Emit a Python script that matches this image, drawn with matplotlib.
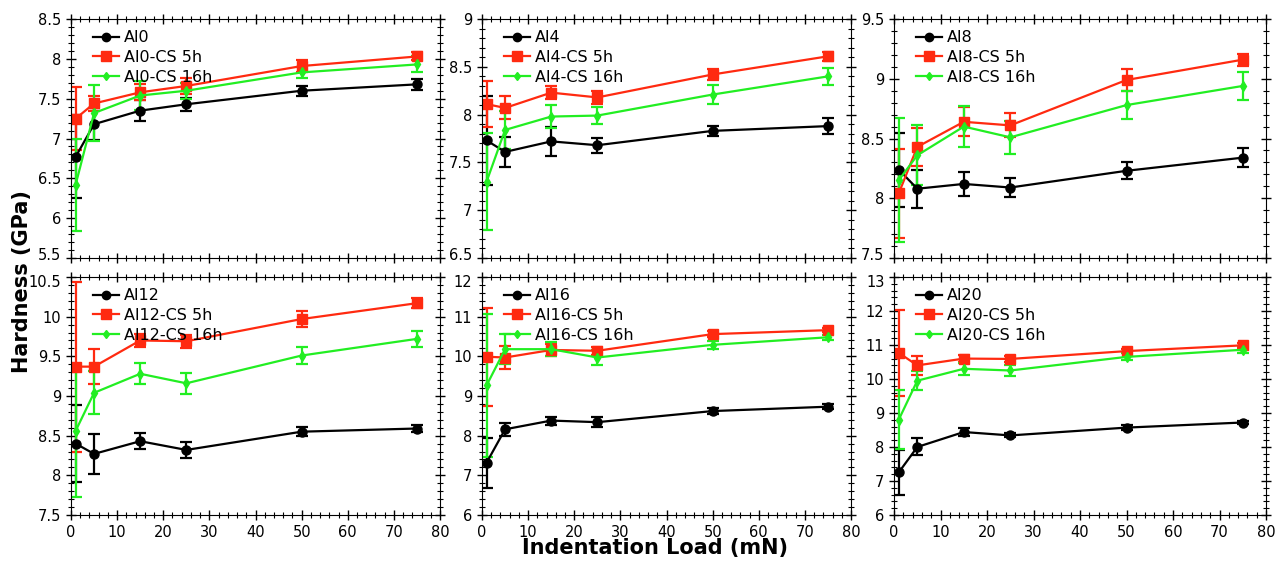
import matplotlib
matplotlib.use('Agg')
import matplotlib.pyplot as plt
from matplotlib.lines import Line2D
from matplotlib.transforms import ScaledTranslation
from matplotlib.ticker import AutoMinorLocator, MultipleLocator

plt.rcParams['font.family'] = 'DejaVu Sans'

load = [1, 5, 15, 25, 50, 75]

al0 = [6.77, 7.18, 7.35, 7.43, 7.60, 7.68]
al0_err = [0.52, 0.20, 0.13, 0.08, 0.065, 0.07]
al0_cs5 = [7.25, 7.44, 7.58, 7.66, 7.91, 8.03]
al0_cs5_err = [0.40, 0.09, 0.10, 0.10, 0.07, 0.05]
al0_cs16 = [6.42, 7.32, 7.54, 7.60, 7.83, 7.93]
al0_cs16_err = [0.58, 0.35, 0.18, 0.10, 0.07, 0.10]

al4 = [7.73, 7.61, 7.72, 7.68, 7.83, 7.88]
al4_err = [0.47, 0.16, 0.15, 0.08, 0.05, 0.08]
al4_cs5 = [8.11, 8.07, 8.23, 8.18, 8.42, 8.61]
al4_cs5_err = [0.24, 0.12, 0.07, 0.07, 0.06, 0.05]
al4_cs16 = [7.30, 7.84, 7.98, 7.99, 8.21, 8.40]
al4_cs16_err = [0.51, 0.20, 0.12, 0.09, 0.10, 0.09]

al8 = [8.24, 8.08, 8.12, 8.09, 8.23, 8.34]
al8_err = [0.31, 0.16, 0.10, 0.08, 0.07, 0.08]
al8_cs5 = [8.04, 8.43, 8.64, 8.61, 8.99, 9.16]
al8_cs5_err = [0.37, 0.16, 0.12, 0.10, 0.09, 0.05]
al8_cs16 = [8.15, 8.36, 8.60, 8.51, 8.78, 8.94]
al8_cs16_err = [0.52, 0.25, 0.17, 0.14, 0.12, 0.12]

al12 = [8.40, 8.27, 8.43, 8.32, 8.55, 8.59]
al12_err = [0.49, 0.25, 0.10, 0.10, 0.06, 0.05]
al12_cs5 = [9.37, 9.37, 9.70, 9.69, 9.97, 10.17]
al12_cs5_err = [1.07, 0.22, 0.08, 0.08, 0.10, 0.06]
al12_cs16 = [8.56, 9.04, 9.28, 9.16, 9.51, 9.72]
al12_cs16_err = [0.83, 0.27, 0.13, 0.13, 0.11, 0.10]

al16 = [7.32, 8.16, 8.38, 8.34, 8.62, 8.73]
al16_err = [0.63, 0.16, 0.10, 0.13, 0.08, 0.07]
al16_cs5 = [9.99, 9.97, 10.16, 10.14, 10.56, 10.66]
al16_cs5_err = [1.23, 0.28, 0.15, 0.10, 0.08, 0.05]
al16_cs16 = [9.27, 10.18, 10.18, 9.97, 10.29, 10.48]
al16_cs16_err = [1.80, 0.38, 0.18, 0.20, 0.10, 0.07]

al20 = [7.25, 8.00, 8.44, 8.34, 8.57, 8.72]
al20_err = [0.65, 0.25, 0.12, 0.06, 0.07, 0.05]
al20_cs5 = [10.77, 10.40, 10.60, 10.59, 10.82, 10.99]
al20_cs5_err = [1.27, 0.27, 0.10, 0.10, 0.07, 0.07]
al20_cs16 = [8.80, 9.95, 10.30, 10.25, 10.65, 10.86]
al20_cs16_err = [0.87, 0.28, 0.18, 0.15, 0.10, 0.10]

names = ['Al0', 'Al4', 'Al8', 'Al12', 'Al16', 'Al20']
ylims = [(5.5, 8.5), (6.5, 9), (7.5, 9.5), (7.5, 10.5), (6, 12), (6, 13)]
ysteps = [0.5, 0.5, 0.5, 0.5, 1, 1]

panels = [
    (al0, al0_err, al0_cs5, al0_cs5_err, al0_cs16, al0_cs16_err),
    (al4, al4_err, al4_cs5, al4_cs5_err, al4_cs16, al4_cs16_err),
    (al8, al8_err, al8_cs5, al8_cs5_err, al8_cs16, al8_cs16_err),
    (al12, al12_err, al12_cs5, al12_cs5_err, al12_cs16, al12_cs16_err),
    (al16, al16_err, al16_cs5, al16_cs5_err, al16_cs16, al16_cs16_err),
    (al20, al20_err, al20_cs5, al20_cs5_err, al20_cs16, al20_cs16_err),
]

fig = plt.figure(figsize=(12.84, 5.63), dpi=100)

lefts = [0.0553, 0.3754, 0.6963]
widths = [0.2874, 0.2874, 0.2897]
bottoms = [0.5417, 0.0853]
heights = [0.4245, 0.4227]

red = '#ff2a10'
green = '#22ee22'
styles = [('black', 'o', 6.5), (red, 's', 7), (green, 'd', 5)]

axes = []
for i, (name, data) in enumerate(zip(names, panels)):
    row, col = divmod(i, 3)
    ax = fig.add_axes([lefts[col], bottoms[row], widths[col], heights[row]])
    axes.append(ax)
    labels = [name, name + '-CS 5h', name + '-CS 16h']
    handles = []
    for k in range(3):
        color, mk, ms = styles[k]
        ax.errorbar(load, data[2 * k], yerr=data[2 * k + 1], color=color, marker=mk, ms=ms,
                    lw=1.6, capsize=4, capthick=1.6, elinewidth=1.6)
        handles.append(Line2D([], [], color=color, marker=mk, ms=ms - 0.5, lw=1.6))
    ax.set_xlim(0, 80)
    ax.set_ylim(*ylims[i])
    ax.xaxis.set_major_locator(MultipleLocator(10))
    ax.yaxis.set_major_locator(MultipleLocator(ysteps[i]))
    ax.xaxis.set_minor_locator(AutoMinorLocator(5))
    ax.yaxis.set_minor_locator(AutoMinorLocator(5))
    ax.tick_params(which='both', direction='inout', top=True, right=True, labelsize=10.5)
    ax.tick_params(which='major', length=7, width=1)
    ax.tick_params(which='minor', length=4, width=0.8)
    ax.yaxis.set_major_formatter(plt.FuncFormatter(lambda v, p: ('%g' % v)))
    if row == 0:
        ax.tick_params(labelbottom=False)
    ax.legend(handles, labels, loc='upper left', frameon=False, fontsize=11.5,
              handlelength=1.6, borderaxespad=0.3, labelspacing=0.3,
              handletextpad=0.3, bbox_to_anchor=(0.03, 1.0))

# nudge the touching end labels between rows apart a little
fig.canvas.draw()
for i, ax in enumerate(axes):
    lo, hi = ylims[i]
    for t in ax.yaxis.get_major_ticks():
        if i < 3 and abs(t.get_loc() - lo) < 1e-9:
            t.label1.set_transform(t.label1.get_transform() +
                                   ScaledTranslation(0, 3 / 72, fig.dpi_scale_trans))
        if i >= 3 and abs(t.get_loc() - hi) < 1e-9:
            t.label1.set_transform(t.label1.get_transform() +
                                   ScaledTranslation(0, -3 / 72, fig.dpi_scale_trans))

fig.text(0.017, 0.5, 'Hardness (GPa)', rotation=90, va='center', ha='center',
         fontsize=15, fontweight='bold')
fig.text(0.51, 0.027, 'Indentation Load (mN)', va='center', ha='center',
         fontsize=15, fontweight='bold')

fig.savefig('out.png', dpi=100)
